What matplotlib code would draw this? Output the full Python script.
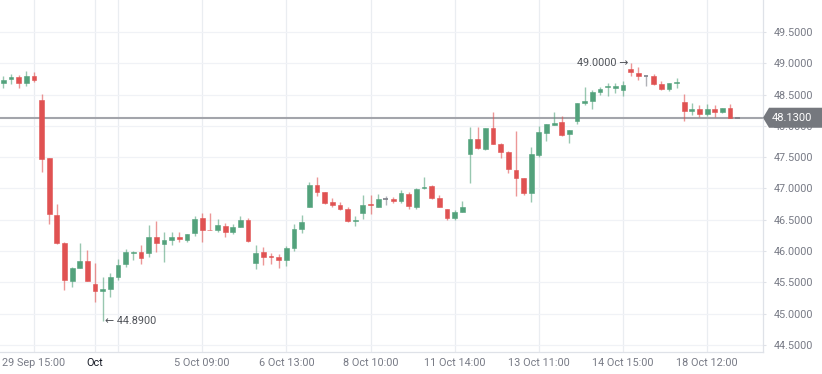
import numpy as np
import matplotlib

matplotlib.use("Agg")
import matplotlib.pyplot as plt
from matplotlib.patches import Polygon

plt.rcParams["font.family"] = ["Roboto", "DejaVu Sans"]

# OHLC per candle
opens = [48.68, 48.755, 48.775, 48.68, 48.80, 48.415, 47.48, 46.575, 46.135, 45.53,
         45.735, 45.845, 45.47, 45.365, 45.39, 45.59, 45.795, 45.97, 45.99, 45.975,
         46.22, 46.12, 46.18, 46.225, 46.18, 46.295, 46.535, 46.34, 46.335, 46.405,
         46.30, 46.39, 46.50, 45.805, 45.98, 45.92, 45.91, 45.86, 46.045, 46.35,
         46.71, 47.05, 46.94, 46.785, 46.735, 46.67, 46.475, 46.615, 46.745, 46.71,
         46.83, 46.835, 46.805, 46.905, 46.71, 47.01, 47.04, 46.855, 46.68, 46.525,
         46.63, 47.545, 47.79, 47.63, 47.97, 47.71, 47.58, 47.295, 47.175, 46.935,
         47.535, 47.89, 48.015, 48.055, 47.865, 48.08, 48.37, 48.40, 48.545, 48.615,
         48.60, 48.575, 48.91, 48.84, 48.80, 48.795, 48.665, 48.59, 48.68, 48.375,
         48.24, 48.265, 48.19, 48.265, 48.22, 48.28, 48.13]
highs = [48.79, 48.83, 48.81, 48.88, 48.855, 48.51, 47.48, 46.76, 46.15, 45.74,
         46.13, 46.02, 45.805, 45.59, 45.645, 45.87, 46.03, 46.0, 46.10, 46.415,
         46.475, 46.31, 46.30, 46.30, 46.28, 46.565, 46.615, 46.605, 46.52, 46.45,
         46.44, 46.56, 46.53, 46.10, 46.065, 45.97, 45.95, 46.08, 46.435, 46.58,
         47.10, 47.19, 46.94, 46.855, 46.79, 46.70, 46.56, 46.89, 46.90, 46.91,
         46.88, 46.87, 46.975, 46.95, 47.0, 47.18, 47.06, 46.89, 46.68, 46.655,
         46.805, 47.985, 47.975, 47.97, 48.225, 47.73, 47.60, 47.92, 47.175, 47.67,
         48.0, 48.03, 48.225, 48.16, 47.935, 48.37, 48.615, 48.57, 48.625, 48.68,
         48.68, 48.72, 49.00, 48.935, 48.80, 48.83, 48.72, 48.69, 48.76, 48.505,
         48.36, 48.34, 48.345, 48.33, 48.29, 48.35, 48.13]
lows = [48.60, 48.665, 48.60, 48.64, 48.705, 47.27, 46.44, 46.11, 45.38, 45.43,
        45.73, 45.525, 45.19, 44.89, 45.26, 45.54, 45.74, 45.86, 45.79, 45.90,
        45.99, 45.83, 46.10, 46.145, 46.145, 46.24, 46.145, 46.33, 46.31, 46.23,
        46.27, 46.38, 46.15, 45.71, 45.78, 45.795, 45.725, 45.76, 46.0, 46.295,
        46.71, 46.885, 46.76, 46.71, 46.66, 46.47, 46.405, 46.51, 46.59, 46.71,
        46.74, 46.775, 46.77, 46.67, 46.68, 46.99, 46.83, 46.70, 46.50, 46.50,
        46.62, 47.08, 47.63, 47.61, 47.71, 47.48, 47.245, 46.885, 46.90, 46.79,
        47.50, 47.76, 48.015, 47.84, 47.72, 48.03, 48.33, 48.27, 48.495, 48.48,
        48.53, 48.48, 48.80, 48.735, 48.635, 48.655, 48.58, 48.56, 48.60, 48.085,
        48.17, 48.14, 48.15, 48.14, 48.20, 48.13, 48.13]
closes = [48.73, 48.775, 48.68, 48.80, 48.735, 47.465, 46.59, 46.125, 45.54, 45.725,
          45.845, 45.525, 45.365, 45.39, 45.58, 45.78, 45.98, 45.99, 45.885, 46.23,
          46.135, 46.175, 46.225, 46.19, 46.27, 46.51, 46.34, 46.33, 46.41, 46.30,
          46.39, 46.50, 46.165, 45.975, 45.91, 45.90, 45.86, 46.045, 46.35, 46.46,
          47.05, 46.94, 46.775, 46.735, 46.67, 46.48, 46.50, 46.735, 46.73, 46.835,
          46.83, 46.805, 46.92, 46.72, 46.985, 47.03, 46.845, 46.70, 46.525, 46.62,
          46.70, 47.79, 47.64, 47.97, 47.71, 47.59, 47.305, 47.165, 46.935, 47.545,
          47.905, 48.03, 48.04, 47.855, 47.935, 48.37, 48.40, 48.545, 48.59, 48.64,
          48.64, 48.66, 48.855, 48.795, 48.80, 48.67, 48.585, 48.68, 48.695, 48.24,
          48.27, 48.19, 48.265, 48.215, 48.28, 48.13, 48.13]

tick_idx = [4, 12, 26, 37, 48, 59, 70, 81, 92]
tick_labels = ["29 Sep 15:00", "Oct", "5 Oct 09:00", "6 Oct 13:00", "8 Oct 10:00",
               "11 Oct 14:00", "13 Oct 11:00", "14 Oct 15:00", "18 Oct 12:00"]
extra_grid_idx = [15]
y_ticks = [44.5, 45.0, 45.5, 46.0, 46.5, 47.0, 47.5, 48.0, 48.5, 49.0, 49.5]
last_price = 48.13
low_mark = (13, 44.89)
high_mark = (82, 49.00)

UP = "#53a27c"
DOWN = "#e05252"
FLAT = "#7c7f88"
LABEL = "#787b86"

fig = plt.figure(figsize=(8.22, 3.74), dpi=100)
ax = fig.add_axes([0, 22 / 374, 763 / 822, 352 / 374])

o = np.array(opens)
h = np.array(highs)
l = np.array(lows)
c = np.array(closes)
x = np.arange(len(o))
colors = np.where(c > o, UP, np.where(c < o, DOWN, FLAT))

# wicks
ax.vlines(x, l, h, colors=colors, lw=1.0, alpha=0.6, zorder=3)
# bodies
body = c != o
ax.bar(x[body], np.abs(c - o)[body], bottom=np.minimum(o, c)[body], width=0.62,
       color=colors[body], edgecolor=colors[body], linewidth=0.4, zorder=4)
ax.hlines(o[~body], x[~body] - 0.31, x[~body] + 0.31, colors=colors[~body],
          lw=1.2, zorder=4)

# last price line + tag
ax.axhline(last_price, color="#a3a5ab", lw=1.5, zorder=2)
trans = ax.get_yaxis_transform()
hh = 0.16
tag = Polygon([(1.0, last_price), (1.0079, last_price + hh), (1.09, last_price + hh),
               (1.09, last_price - hh), (1.0079, last_price - hh)],
              closed=True, transform=trans, clip_on=False, facecolor="#75787e",
              edgecolor="none", zorder=10)
ax.add_patch(tag)
ax.text(1.038, last_price, f"{last_price:.4f}", transform=trans, ha="center",
        va="center", color="white", fontsize=8, zorder=11, clip_on=False)

# high / low annotations
ax.annotate(f"\u2190 {low_mark[1]:.4f}", xy=low_mark, xytext=(1.5, 0),
            textcoords="offset points", ha="left", va="center",
            fontsize=7.8, color="#505359")
ax.annotate(f"{high_mark[1]:.4f} \u2192", xy=high_mark, xytext=(-1.5, 0),
            textcoords="offset points", ha="right", va="center",
            fontsize=7.8, color="#505359")

ax.set_xlim(-0.43, 99.3)
ax.set_ylim(44.388, 50.011)

ax.yaxis.tick_right()
ax.set_yticks(y_ticks)
ax.set_yticklabels([f"{v:.4f}" for v in y_ticks])
ax.tick_params(axis="y", length=2.5, width=0.8, color="#dfe2e8", pad=5,
               labelsize=7.8, labelcolor=LABEL)

ax.set_xticks(tick_idx)
ax.set_xticklabels(tick_labels)
ax.set_xticks(extra_grid_idx, minor=True)
ax.tick_params(axis="x", which="both", length=0, pad=4.5, labelsize=7.8,
               labelcolor=LABEL)
ax.get_xticklabels()[1].set_color("#131722")

ax.grid(axis="y", color="#f0f2f6", lw=0.9, zorder=0)
ax.grid(axis="x", which="both", color="#eaedf1", lw=0.9, zorder=0)
ax.set_axisbelow(True)

for side in ["top", "left"]:
    ax.spines[side].set_visible(False)
for side in ["right", "bottom"]:
    ax.spines[side].set_color("#dfe2e8")
    ax.spines[side].set_linewidth(0.9)

fig.savefig("out.png", dpi=100)
